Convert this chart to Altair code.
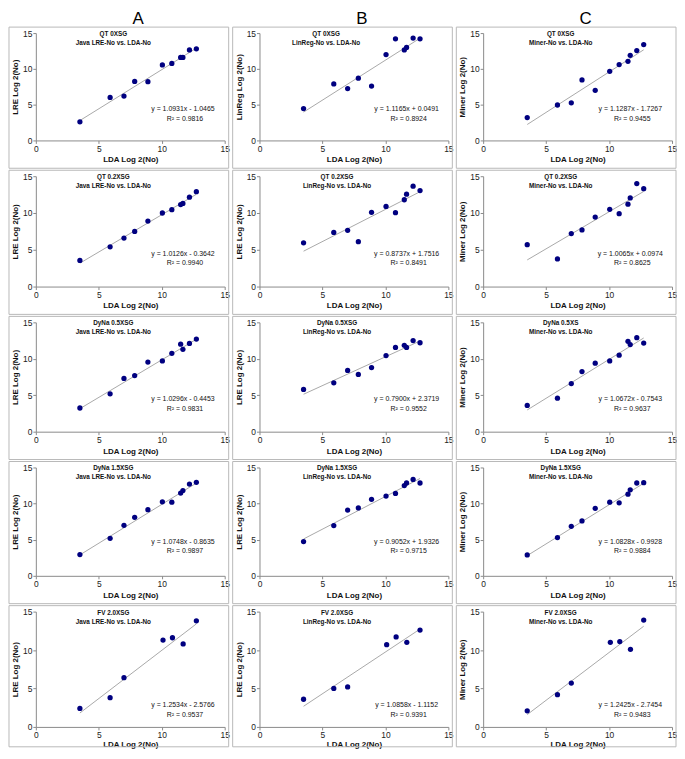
import altair as alt
import pandas as pd

# ---------------- data ----------------
x_main = [3.5, 5.9, 7.0, 7.85, 8.9, 10.05, 10.8, 11.5, 11.68, 12.2, 12.75]
x_fv = [3.5, 5.9, 7.0, 10.1, 10.85, 11.7, 12.75]

y_A1 = [2.6, 6.0, 6.2, 8.25, 8.2, 10.55, 10.75, 11.6, 11.6, 12.65, 12.8]
y_B1 = [4.45, 7.9, 7.25, 8.7, 7.6, 12.0, 14.2, 12.65, 13.0, 14.3, 14.2]
y_C1 = [3.2, 4.95, 5.25, 8.45, 7.0, 9.65, 10.6, 11.05, 11.9, 12.55, 13.4]
y_A2 = [3.55, 5.4, 6.6, 7.5, 8.9, 10.0, 10.45, 11.15, 11.3, 12.15, 12.9]
y_B2 = [5.95, 7.35, 7.65, 6.1, 10.1, 10.9, 10.05, 11.8, 12.55, 13.65, 13.05]
y_C2 = [5.7, 3.75, 7.2, 7.7, 9.45, 10.5, 9.9, 11.2, 12.05, 14.0, 13.3]
y_A3 = [3.25, 5.2, 7.3, 7.7, 9.55, 9.7, 10.75, 12.0, 11.3, 12.1, 12.7]
y_B3 = [5.8, 6.7, 8.4, 7.85, 8.8, 10.45, 11.55, 11.85, 11.55, 12.5, 12.2]
y_C3 = [3.6, 4.6, 6.6, 8.25, 9.4, 9.7, 10.5, 12.4, 11.95, 12.9, 12.15]
y_A4 = [2.95, 5.2, 7.0, 8.1, 9.15, 10.25, 10.2, 11.45, 11.8, 12.7, 12.95]
y_B4 = [4.75, 6.95, 9.1, 9.4, 10.6, 11.05, 11.4, 12.5, 12.85, 13.35, 12.85]
y_C4 = [2.9, 5.3, 6.85, 7.6, 9.35, 10.2, 10.1, 11.3, 11.9, 12.85, 12.9]
y_A5 = [2.4, 3.8, 6.4, 11.3, 11.6, 10.8, 13.8]
y_B5 = [3.6, 5.0, 5.2, 10.7, 11.7, 11.0, 12.6]
y_C5 = [2.1, 4.2, 5.7, 11.0, 11.1, 10.1, 13.9]

headers = ["A", "B", "C"]
row_titles = ["QT 0XSG", "QT 0.2XSG", "DyNa 0.5XSG", "DyNa 1.5XSG", "FV 2.0XSG"]
col_C_row_titles = ["QT 0XSG", "QT 0.2XSG", "DyNa 0.5XS", "DyNa 1.5XSG", "FV 2.0XSG"]
subtitles = ["Java LRE-No vs. LDA-No", "LinReg-No vs. LDA-No", "Miner-No vs. LDA-No"]
y_titles = [
    ["LRE Log 2(No)", "LinReg Log 2(No)", "Miner Log 2(No)"],
    ["LRE Log 2(No)", "LRE Log 2(No)", "Miner Log 2(No)"],
    ["LRE Log 2(No)", "LRE Log 2(No)", "Miner Log 2(No)"],
    ["LRE Log 2(No)", "LRE Log 2(No)", "Miner Log 2(No)"],
    ["LRE Log 2(No)", "LRE Log 2(No)", "Miner Log 2(No)"],
]
x_title = "LDA Log 2(No)"

slopes = [
    [1.0931, 1.1165, 1.1287],
    [1.0126, 0.8737, 1.0065],
    [1.0296, 0.7900, 1.0672],
    [1.0748, 0.9052, 1.0828],
    [1.2534, 1.0858, 1.2425],
]
intercepts = [
    [-1.0465, 0.0491, -1.7267],
    [-0.3642, 1.7516, 0.0974],
    [-0.4453, 2.3719, -0.7543],
    [-0.8635, 1.9326, -0.9928],
    [-2.5766, -1.1152, -2.7454],
]
r2_values = [
    ["0.9816", "0.8924", "0.9455"],
    ["0.9940", "0.8491", "0.8625"],
    ["0.9831", "0.9552", "0.9637"],
    ["0.9897", "0.9715", "0.9884"],
    ["0.9537", "0.9391", "0.9483"],
]

y_series = [
    [y_A1, y_B1, y_C1],
    [y_A2, y_B2, y_C2],
    [y_A3, y_B3, y_C3],
    [y_A4, y_B4, y_C4],
    [y_A5, y_B5, y_C5],
]
x_series = [x_main, x_main, x_main, x_main, x_fv]

# ---------------- layout (not data) ----------------
W = 190
row_heights = [108, 111, 110, 109, 116]
box_bottom = [28, 28, 28, 28, 20]
x_title_pad = [3, 3, 3, 3, 1]
eq_y = [76, 78, 77, 75, 94]
r2_y = [86, 87, 87, 84, 104]
FONT = "Liberation Sans"
NAVY = "#000080"


def fmt_eq(s, b):
    sign = "+" if b >= 0 else "-"
    return f"y = {s:.4f}x {sign} {abs(b):.4f}"


def one(text):
    return alt.Chart(pd.DataFrame({"t": [text]}))


def panel(r, c):
    h = row_heights[r]
    xs, ys = x_series[r], y_series[r][c]
    s, b = slopes[r][c], intercepts[r][c]
    df = pd.DataFrame({"x": xs, "y": ys})
    sc = alt.Scale(domain=[0, 15], nice=False, zero=False)
    xax = alt.Axis(values=[0, 5, 10, 15], title=x_title, labelFlush=False, titlePadding=x_title_pad[r])
    yax = alt.Axis(values=[0, 5, 10, 15], title=y_titles[r][c])
    xenc = alt.X("x:Q", scale=sc, axis=xax)

    box = one("").mark_rect(fillOpacity=0, stroke="#b8b8b8", strokeWidth=1).encode(
        x=alt.value(-27), x2=alt.value(W + 4), y=alt.value(-6), y2=alt.value(h + box_bottom[r])
    )
    line = (
        alt.Chart(df)
        .transform_aggregate(x0="min(x)", x1="max(x)")
        .transform_fold(["x0", "x1"], as_=["k", "x"])
        .transform_calculate(fit=f"{s} * datum.x + ({b})")
        .mark_line(color="#a8a8a8", strokeWidth=1)
        .encode(x=xenc, y=alt.Y("fit:Q", scale=sc, axis=yax))
    )
    pts = alt.Chart(df).mark_circle(size=28, color=NAVY, opacity=1).encode(
        x=xenc, y=alt.Y("y:Q", scale=sc, axis=yax)
    )
    tdx = 67 if (r == 0 and c == 1) else 78
    t1 = (col_C_row_titles if c == 2 else row_titles)[r]
    title1 = one(t1).mark_text(font=FONT, fontSize=6.4, fontWeight="bold", color="#111", baseline="middle").encode(
        x=alt.value(tdx), y=alt.value(1), text="t:N")
    title2 = one(subtitles[c]).mark_text(font=FONT, fontSize=6.4, fontWeight="bold", color="#111", baseline="middle").encode(
        x=alt.value(tdx), y=alt.value(10), text="t:N")
    eq = one(fmt_eq(s, b)).mark_text(font=FONT, fontSize=7, color="#111", baseline="middle").encode(
        x=alt.value(148), y=alt.value(eq_y[r]), text="t:N")
    r2 = one(f"R\u00b2 = {r2_values[r][c]}").mark_text(font=FONT, fontSize=7, color="#111", baseline="middle").encode(
        x=alt.value(150), y=alt.value(r2_y[r]), text="t:N")
    layers = [box, line, pts, title1, title2, eq, r2]
    if r == 0:
        hd = one(headers[c]).mark_text(font=FONT, fontSize=17, color="#000", baseline="alphabetic").encode(
            x=alt.value(103), y=alt.value(-9), text="t:N")
        layers.append(hd)
    return alt.layer(*layers).properties(width=W, height=h)


panels = [panel(r, c) for r in range(5) for c in range(3)]

chart = (
    alt.concat(*panels, columns=3, spacing={"row": 36, "column": 35})
    .properties(bounds="flush", padding={"left": 0, "top": 0, "right": 0, "bottom": 0})
    .configure_view(stroke=None)
    .configure_axis(
        grid=False,
        labelFont=FONT,
        labelFontSize=8.5,
        labelColor="#222",
        titleFont=FONT,
        titleFontSize=8,
        titleFontWeight="bold",
        titleColor="#111",
        domainColor="#8a8a8a",
        tickColor="#8a8a8a",
        tickSize=3,
        labelPadding=1,
        titlePadding=3,
    )
)

chart.save("out.html", embed_options={"renderer": "svg", "actions": False})
